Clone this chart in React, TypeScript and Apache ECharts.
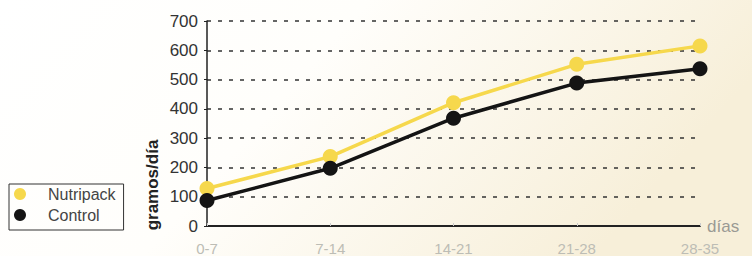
import React, { useEffect, useRef } from "react";
import * as echarts from "echarts";

const categories = ["0-7", "7-14", "14-21", "21-28", "28-35"];
const nutripack = [128, 237, 421, 552, 615];
const control = [87, 197, 368, 488, 537];
const yTicks = { min: 0, max: 700, interval: 100 };
const seriesNames = ["Nutripack", "Control"];
const yName = "gramos/día";
const xName = "días";

export default function App() {
  const ref = useRef<HTMLDivElement>(null);
  useEffect(() => {
    if (!ref.current) return;
    const chart = echarts.init(ref.current, undefined, { renderer: "svg" });
    chart.setOption({
      animation: false,
      backgroundColor: {
        type: "linear",
        x: 0, y: 0, x2: 1, y2: 0.3,
        colorStops: [
          { offset: 0, color: "#ffffff" },
          { offset: 0.45, color: "#fffefb" },
          { offset: 1, color: "#f7efd9" },
        ],
      },
      textStyle: { fontFamily: "Liberation Sans, Arial, sans-serif" },
      grid: { left: 207, right: 52, top: 21, bottom: 26, containLabel: false },
      legend: {
        orient: "vertical",
        left: 9,
        top: 184,
        data: seriesNames,
        icon: "circle",
        itemWidth: 12,
        itemHeight: 12,
        itemGap: 5,
        padding: [2, 8, 7, 5],
        borderColor: "#333",
        borderWidth: 1,
        textStyle: {
          color: "#444",
          fontSize: 16,
          padding: [0, 0, 0, 17],
          fontFamily: "Liberation Sans, Arial, sans-serif",
        },
      },
      xAxis: {
        type: "category",
        data: categories,
        boundaryGap: false,
        name: xName,
        nameLocation: "end",
        nameGap: 7,
        nameTextStyle: { color: "#9a9a94", fontSize: 17, verticalAlign: "middle", padding: [4, 0, 0, 0] },
        axisLine: { lineStyle: { color: "#222", width: 2 } },
        axisTick: { show: true, length: 3, inside: true, lineStyle: { color: "#ccc" } },
        axisLabel: { color: "#bdbdb5", fontSize: 15, margin: 15 },
        splitLine: { show: false },
      },
      yAxis: {
        type: "value",
        min: yTicks.min,
        max: yTicks.max,
        interval: yTicks.interval,
        axisLine: { show: true, lineStyle: { color: "#222", width: 1.5 } },
        axisTick: { show: true, length: 3, lineStyle: { color: "#222" } },
        axisLabel: { color: "#333", fontSize: 17, margin: 9 },
        splitLine: {
          show: true,
          lineStyle: { color: "#333", type: [4, 7], width: 1.5 },
        },
      },
      graphic: [
        {
          type: "text",
          x: 152,
          y: 185,
          rotation: Math.PI / 2,
          style: {
            text: yName,
            fill: "#222",
            font: "bold 17px Liberation Sans, Arial, sans-serif",
            align: "center",
            verticalAlign: "middle",
          },
        },
      ],
      series: [
        {
          name: seriesNames[0],
          type: "line",
          data: nutripack,
          symbol: "circle",
          symbolSize: 15,
          lineStyle: { color: "#f6d84c", width: 3.5 },
          itemStyle: { color: "#f6d84c" },
          z: 2,
        },
        {
          name: seriesNames[1],
          type: "line",
          data: control,
          symbol: "circle",
          symbolSize: 15,
          lineStyle: { color: "#141414", width: 3.5 },
          itemStyle: { color: "#141414" },
          z: 3,
        },
      ],
    });
    return () => chart.dispose();
  }, []);
  return (
    <div
      ref={ref}
      style={{ position: "fixed", left: 0, top: 0, width: 752, height: 256 }}
    />
  );
}
